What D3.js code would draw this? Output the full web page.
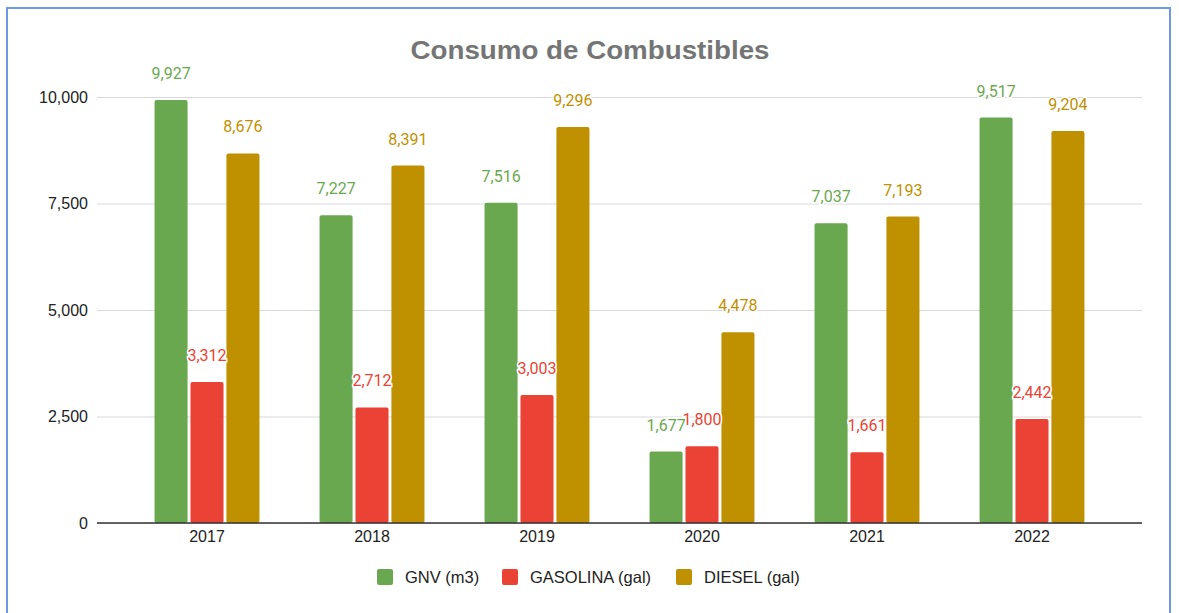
<!DOCTYPE html>
<html>
<head>
<meta charset="utf-8">
<script src="https://cdn.jsdelivr.net/npm/d3@7"></script>
<style>
  body { margin: 0; background: #fff; }
  svg { display: block; font-family: "Liberation Sans", Arial, sans-serif; }
</style>
</head>
<body>
<div id="chart"></div>
<script>
// chart data
const years = ["2017", "2018", "2019", "2020", "2021", "2022"]
const seriesNames = ["GNV (m3)", "GASOLINA (gal)", "DIESEL (gal)"]
const gnv = [9927, 7227, 7516, 1677, 7037, 9517]
const gasolina = [3312, 2712, 3003, 1800, 1661, 2442]
const diesel = [8676, 8391, 9296, 4478, 7193, 9204]
const yTicks = [0, 2500, 5000, 7500, 10000]
const colors = ["#6aa84f", "#ea4335", "#bf9000"]

const w = 1179
const h = 613

const series = [gnv, gasolina, diesel]

const svg = d3.select("#chart")
  .append("svg")
  .attr("width", w)
  .attr("height", h)

// outer frame
svg.append("rect")
  .attr("x", 7)
  .attr("y", 8)
  .attr("width", 1163)
  .attr("height", 620)
  .attr("fill", "none")
  .attr("stroke", "#6d9be0")
  .attr("stroke-width", 2)

// title
svg.append("text")
  .attr("x", 590)
  .attr("y", 59)
  .attr("text-anchor", "middle")
  .attr("font-size", 25)
  .attr("font-weight", "bold")
  .attr("fill", "#757575")
  .attr("textLength", 359)
  .attr("lengthAdjust", "spacingAndGlyphs")
  .text("Consumo de Combustibles")

// scales
const y = d3.scaleLinear().domain([0, 10000]).range([523, 97])

const x0 = d3.scaleBand()
  .domain(years)
  .range([124.5, 1114.5])
  .paddingInner(0.364)
  .paddingOuter(0.182)

const x1 = d3.scaleBand()
  .domain(d3.range(series.length))
  .range([0, x0.bandwidth()])
  .paddingInner(0.08)

// gridlines + y labels
const yAxis = d3.axisLeft(y)
  .tickValues(yTicks)
  .tickSize(-(1142 - 97))
  .tickPadding(9)
  .tickFormat(d3.format(","))

const gy = svg.append("g")
  .attr("transform", "translate(97,0)")
  .call(yAxis)
gy.select(".domain").remove()
gy.selectAll(".tick line").attr("stroke", "#d9d9d9").attr("stroke-width", 1)
gy.selectAll(".tick text")
  .attr("font-size", 16)
  .attr("fill", "#222")
  .attr("font-family", "'Liberation Sans', Arial, sans-serif")

// bars
const groups = svg.append("g")
  .selectAll("g")
  .data(years)
  .join("g")
  .attr("transform", d => `translate(${x0(d)},0)`)

groups.selectAll("rect")
  .data((d, i) => series.map((s, k) => ({ k: k, v: s[i] })))
  .join("rect")
  .attr("x", d => x1(d.k))
  .attr("y", d => y(d.v))
  .attr("width", x1.bandwidth())
  .attr("height", d => y(0) - y(d.v))
  .attr("rx", 2)
  .attr("fill", d => colors[d.k])

// value labels
groups.selectAll("text")
  .data((d, i) => series.map((s, k) => ({ k: k, v: s[i] })))
  .join("text")
  .attr("x", d => x1(d.k) + x1.bandwidth() / 2)
  .attr("y", d => y(d.v) - 21)
  .attr("text-anchor", "middle")
  .attr("font-family", "Roboto, sans-serif")
  .attr("font-size", 16)
  .attr("fill", d => colors[d.k])
  .attr("stroke", "#fff")
  .attr("stroke-width", 3)
  .attr("paint-order", "stroke")
  .text(d => d3.format(",")(d.v))

// baseline + x axis labels
const xAxis = d3.axisBottom(x0).tickSize(0).tickPadding(8)
const gx = svg.append("g")
  .attr("transform", `translate(0,${y(0)})`)
  .call(xAxis)
gx.select(".domain").remove()
gx.selectAll(".tick text")
  .attr("font-size", 16)
  .attr("fill", "#222")
  .attr("font-family", "'Liberation Sans', Arial, sans-serif")

svg.append("line")
  .attr("x1", 97)
  .attr("x2", 1142)
  .attr("y1", y(0))
  .attr("y2", y(0))
  .attr("stroke", "#333")
  .attr("stroke-width", 1.5)

// legend
const legendX = [377, 502, 676]
const legend = svg.append("g")
  .selectAll("g")
  .data(seriesNames)
  .join("g")
  .attr("transform", (d, i) => `translate(${legendX[i]},569)`)

legend.append("rect")
  .attr("width", 16)
  .attr("height", 16)
  .attr("rx", 2)
  .attr("fill", (d, i) => colors[i])

legend.append("text")
  .attr("x", 28)
  .attr("y", 14)
  .attr("font-size", 16.5)
  .attr("fill", "#222")
  .text(d => d)
</script>
</body>
</html>
